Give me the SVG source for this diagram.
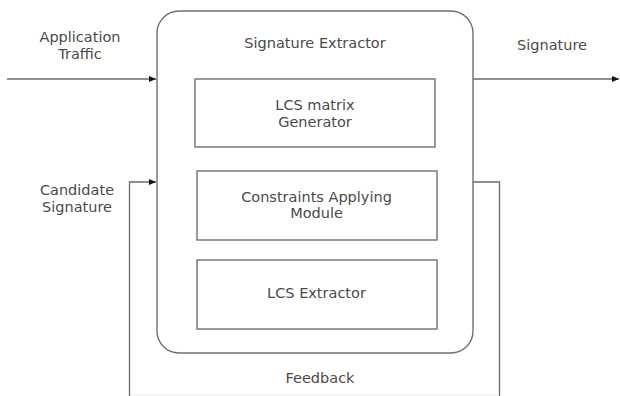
<svg xmlns="http://www.w3.org/2000/svg" width="620" height="396" viewBox="0 0 620 396">
<style>
.box{fill:#fff;stroke:#707070;stroke-width:1.4}
.ln{fill:none;stroke:#6a6a6a;stroke-width:1.3}
.t{font-family:"DejaVu Sans",sans-serif;font-size:14.5px;fill:#4a4a4a;text-anchor:middle}
</style>
<defs>
<marker id="ah" markerWidth="8" markerHeight="6" refX="7" refY="3" orient="auto" markerUnits="userSpaceOnUse">
<path d="M0,0 L7,3 L0,6 Z" fill="#111"/>
</marker>
</defs>
<rect width="620" height="396" fill="#fff"/>
<g id="connectors">
<line class="ln" x1="7" y1="79" x2="156" y2="79" marker-end="url(#ah)"/>
<line class="ln" x1="473" y1="79" x2="619" y2="79" marker-end="url(#ah)"/>
<polyline class="ln" points="129.5,396 129.5,182 156,182" marker-end="url(#ah)"/>
<polyline class="ln" points="473,182 499.5,182 499.5,396"/>
<line x1="130" y1="395" x2="499" y2="395" stroke="#e6e6e6" stroke-width="1"/>
</g>
<g id="signature-extractor">
<rect class="box" x="157" y="11" width="316" height="342" rx="22"/>
<text class="t" x="315" y="48">Signature Extractor</text>
</g>
<g id="lcs-matrix-generator">
<rect class="box" x="195" y="79" width="240" height="68"/>
<text class="t" x="315" y="110">LCS matrix</text>
<text class="t" x="315" y="127">Generator</text>
</g>
<g id="constraints-applying-module">
<rect class="box" x="197" y="171" width="240" height="69"/>
<text class="t" x="316.5" y="202">Constraints Applying</text>
<text class="t" x="316.5" y="218">Module</text>
</g>
<g id="lcs-extractor">
<rect class="box" x="197" y="260" width="240" height="69"/>
<text class="t" x="316.5" y="298">LCS Extractor</text>
</g>
<g id="labels">
<text class="t" x="80" y="42">Application</text>
<text class="t" x="80" y="59">Traffic</text>
<text class="t" x="552" y="50">Signature</text>
<text class="t" x="77" y="195">Candidate</text>
<text class="t" x="77" y="212">Signature</text>
<text class="t" x="320" y="383">Feedback</text>
</g>
</svg>
